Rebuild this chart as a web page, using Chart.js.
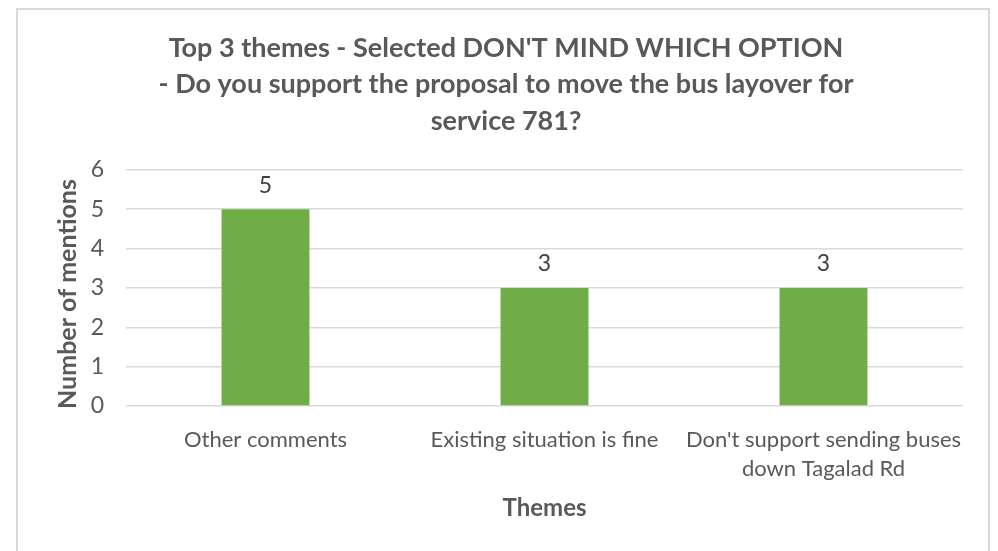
<!DOCTYPE html>
<html>
<head>
<meta charset="utf-8">
<script src="https://cdn.jsdelivr.net/npm/chart.js@4"></script>
<style>
  html, body { margin: 0; padding: 0; background: #fff; }
  #wrap { position: relative; width: 998px; height: 551px; overflow: hidden; }
  #frame { position: absolute; left: 16px; top: 8px; width: 974px; height: 600px;
           border: 2px solid #d9d9d9; box-sizing: border-box; }
  canvas { position: absolute; left: 0; top: 0; }
</style>
</head>
<body>
<div id="wrap">
  <div id="frame"></div>
  <canvas id="c" width="998" height="551"></canvas>
</div>
<script>
// theme categories and mention counts
var themes = [
  'Other comments',
  'Existing situation is fine',
  ["Don't support sending buses", 'down Tagalad Rd']
];
var mentions = [5, 3, 3];
var yTicks = [0, 1, 2, 3, 4, 5, 6];

var FONT = 'Lato, "Open Sans", sans-serif';
var GREY = '#595959';

// value labels above each bar
var barLabels = {
  id: 'barLabels',
  afterDatasetsDraw: function(chart) {
    var ctx = chart.ctx;
    var meta = chart.getDatasetMeta(0);
    ctx.save();
    ctx.font = '23px ' + FONT;
    ctx.fillStyle = '#404040';
    ctx.textAlign = 'center';
    ctx.textBaseline = 'middle';
    meta.data.forEach(function(bar, i) {
      ctx.fillText(String(mentions[i]), bar.x, bar.y - 24);
    });
    ctx.restore();
  }
};

new Chart(document.getElementById('c'), {
  type: 'bar',
  data: {
    labels: themes,
    datasets: [{
      label: 'Mentions',
      data: mentions,
      backgroundColor: '#70ad47',
      categoryPercentage: 1,
      barPercentage: 0.315
    }]
  },
  plugins: [barLabels],
  options: {
    responsive: false,
    animation: false,
    // left/right padding offset so the title centres on the frame
    layout: { padding: { left: 49, right: 35, top: 0, bottom: 0 } },
    plugins: {
      legend: { display: false },
      tooltip: { enabled: false },
      title: {
        display: true,
        text: ['Top 3 themes - Selected DON\'T MIND WHICH OPTION',
               '- Do you support the proposal to move the bus layover for',
               'service 781?'],
        color: GREY,
        font: { family: FONT, size: 27, weight: 'bold', lineHeight: 1.35 },
        padding: { top: 30, bottom: 30.5 }
      }
    },
    scales: {
      x: {
        grid: { display: false },
        border: { display: false },
        ticks: {
          color: GREY,
          maxRotation: 0,
          autoSkip: false,
          padding: 11,
          font: { family: FONT, size: 22, lineHeight: 1.32 }
        },
        title: {
          display: true,
          text: 'Themes',
          color: GREY,
          padding: { top: 0, bottom: 28 },
          font: { family: FONT, size: 24, weight: 'bold', lineHeight: 1.2 }
        },
        afterFit: function(scale) { scale.height = 145; }
      },
      y: {
        min: 0,
        max: 6,
        afterBuildTicks: function(scale) {
          scale.ticks = yTicks.map(function(v) { return { value: v }; });
        },
        grid: { color: '#d9d9d9', lineWidth: 1.5, drawTicks: false },
        border: { display: false },
        ticks: {
          color: GREY,
          padding: 22,
          font: { family: FONT, size: 23 }
        },
        title: {
          display: true,
          // trailing spaces nudge the rotated title a little lower
          text: 'Number of mentions  ',
          color: GREY,
          padding: { top: 4, bottom: 0 },
          font: { family: FONT, size: 25, weight: 'bold', lineHeight: 1.2 }
        },
        afterFit: function(scale) { scale.width = 77; }
      }
    }
  }
});
</script>
</body>
</html>
